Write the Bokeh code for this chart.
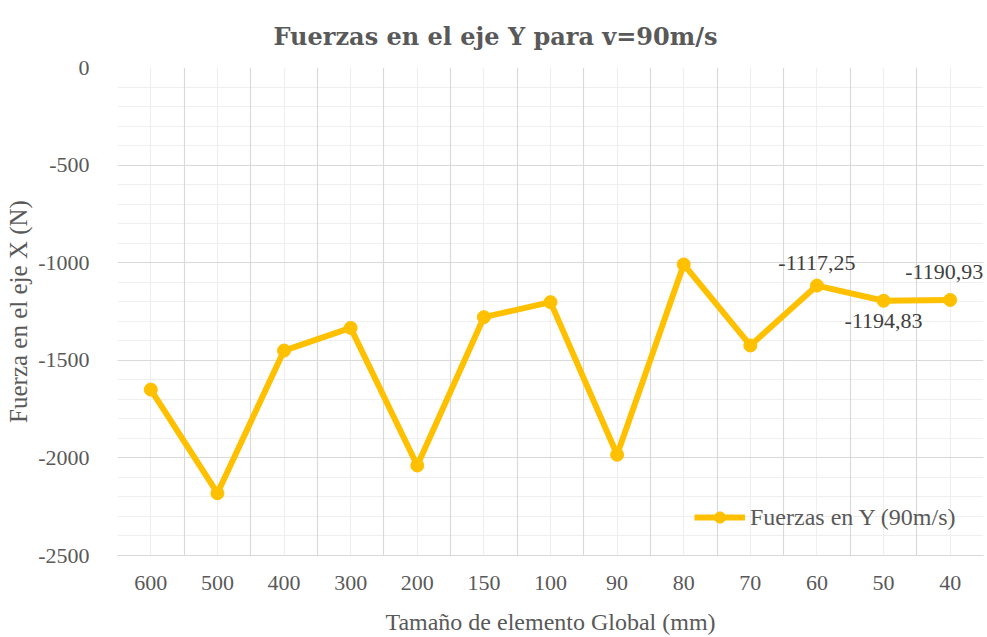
from bokeh.plotting import figure
from bokeh.models import Range1d, FixedTicker, Grid, Label, Legend, LegendItem, Title
from bokeh.embed import file_html
from bokeh.resources import INLINE

# ---- data ----
categories = ["600", "500", "400", "300", "200", "150", "100", "90", "80", "70", "60", "50", "40"]
fuerza_y = [-1650, -2181, -1450, -1334, -2039, -1279, -1202, -1984, -1009, -1424,
            -1117.25, -1194.83, -1190.93]
y_ticks = [0, -500, -1000, -1500, -2000, -2500]
y_minor = list(range(-2500, 1, 100))
labeled_idx = [10, 11, 12]

title_text = "Fuerzas en el eje Y para v=90m/s"
x_title = "Tamaño de elemento Global (mm)"
y_title = "Fuerza en el eje X (N)"
series_name = "Fuerzas en Y (90m/s)"

# ---- styles ----
SERIF = "Liberation Serif"
GREY = "#595959"
MAJOR = "#d9d9d9"
MINOR = "#efefef"
GOLD = "#FFC000"

n = len(categories)
xs = [i + 0.5 for i in range(n)]
bounds = list(range(n + 1))

p = figure(width=987, height=637, output_backend="svg", toolbar_location=None, title=None,
           x_range=Range1d(0, n), y_range=Range1d(y_ticks[-1], y_ticks[0]),
           min_border_left=117, min_border_right=4, min_border_top=67, min_border_bottom=82)
p.outline_line_color = None
p.background_fill_color = "white"
p.border_fill_color = "white"

# title (standoff lifts it away from the frame)
p.add_layout(Title(text=title_text, align="left", offset=156, standoff=34,
                   vertical_align="bottom",
                   text_font="DejaVu Serif", text_font_size="24px", text_font_style="bold",
                   text_color=GREY), "above")

# grids
p.xgrid.grid_line_color = None
p.ygrid.grid_line_color = None
p.add_layout(Grid(dimension=0, ticker=FixedTicker(ticks=xs), grid_line_color=MINOR, grid_line_width=1.2))
p.add_layout(Grid(dimension=1, ticker=FixedTicker(ticks=y_minor), grid_line_color=MINOR, grid_line_width=1.2))
p.add_layout(Grid(dimension=0, ticker=FixedTicker(ticks=bounds), grid_line_color=MAJOR, grid_line_width=1.2))
p.add_layout(Grid(dimension=1, ticker=FixedTicker(ticks=y_ticks), grid_line_color=MAJOR, grid_line_width=1.2))

# axes
xa = p.below[0]
xa.ticker = FixedTicker(ticks=xs)
xa.major_label_overrides = {x: c for x, c in zip(xs, categories)}
xa.axis_line_color = MAJOR
xa.axis_line_width = 1.2
xa.major_tick_line_color = None
xa.minor_tick_line_color = None
xa.major_label_standoff = 14
xa.major_label_text_font = SERIF
xa.major_label_text_font_size = "22px"
xa.major_label_text_color = GREY
xa.axis_label = x_title
xa.axis_label_text_font = SERIF
xa.axis_label_text_font_size = "24px"
xa.axis_label_text_font_style = "normal"
xa.axis_label_text_color = GREY
xa.axis_label_standoff = 16

ya = p.left[0]
ya.ticker = FixedTicker(ticks=y_ticks)
ya.major_label_overrides = {v: str(v) for v in y_ticks}
ya.axis_line_color = None
ya.major_tick_line_color = None
ya.minor_tick_line_color = None
ya.major_label_standoff = 22
ya.major_label_text_font = SERIF
ya.major_label_text_font_size = "22px"
ya.major_label_text_color = GREY
ya.axis_label = y_title
ya.axis_label_text_font = SERIF
ya.axis_label_text_font_size = "25px"
ya.axis_label_text_font_style = "normal"
ya.axis_label_text_color = GREY
ya.axis_label_standoff = 3

# series
line = p.line(xs, fuerza_y, line_color=GOLD, line_width=6, line_join="round")
dots = p.scatter(xs, fuerza_y, size=13, fill_color=GOLD, line_color=GOLD)

legend = Legend(items=[LegendItem(label=series_name, renderers=[line, dots])],
                location=(577, 24), orientation="vertical",
                background_fill_alpha=0, border_line_color=None,
                padding=0, margin=0, spacing=0,
                glyph_width=51, glyph_height=28, label_height=28, label_standoff=5,
                label_text_font=SERIF, label_text_font_size="24px", label_text_color=GREY)
p.add_layout(legend)

# data labels
offsets = {10: (0, 23), 11: (0, -20), 12: (-6, 28)}
for i in labeled_idx:
    dx, dy = offsets[i]
    p.add_layout(Label(x=xs[i], y=fuerza_y[i], x_offset=dx, y_offset=dy,
                       text=f"{fuerza_y[i]:.2f}".replace(".", ","),
                       text_align="center", text_baseline="middle",
                       text_font=SERIF, text_font_size="22px", text_color="#404040"))

open("out.html", "w").write(file_html(p, INLINE))
